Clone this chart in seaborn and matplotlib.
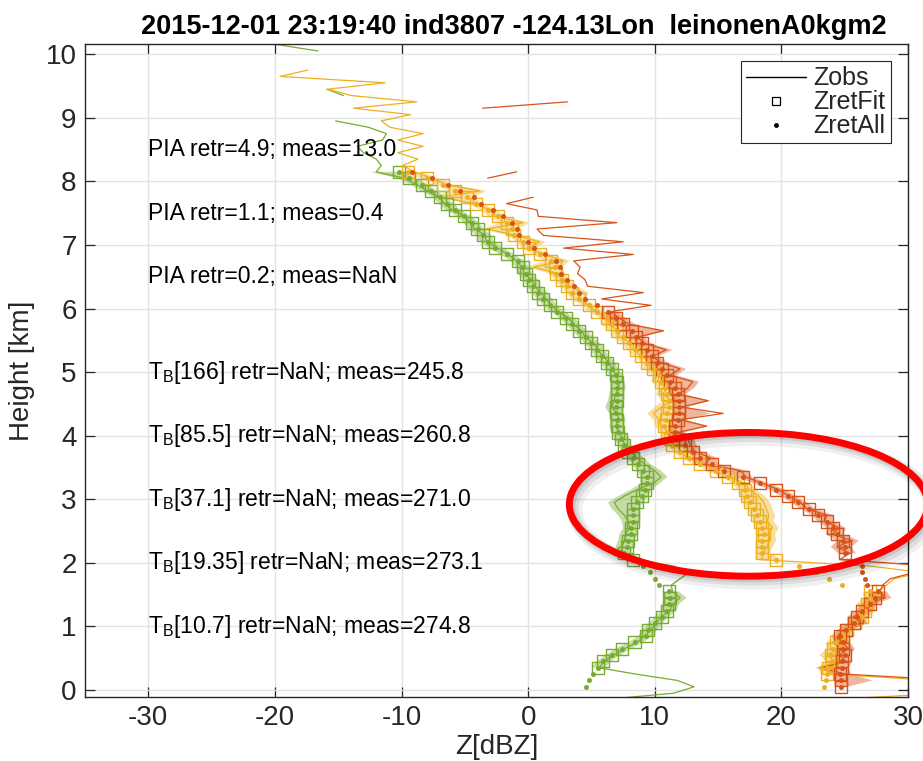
import numpy as np
import pandas as pd
import matplotlib
matplotlib.use("Agg")
import matplotlib.pyplot as plt
from matplotlib.lines import Line2D
from matplotlib.patches import Ellipse
import seaborn as sns

# ---------------- data ----------------
# retrieval range gates (km), top to bottom
height_ret = np.round(np.arange(8.15, 0.0, -0.1), 2)
# observation range gates (km), top to bottom
height_obs = np.round(np.arange(10.15, -0.2, -0.1), 2)

green_all = [-10.2, -9.4, -8.4, -7.7, -7.0, -6.4, -5.8, -5.1, -4.4, -4.0,
             -3.6, -3.2, -2.6, -1.7, -0.8, -0.4, -0.2, 0.1, 0.4, 0.8,
             1.2, 1.7, 2.3, 3.0, 3.5, 4.0, 4.6, 5.0, 5.4, 5.8,
             6.2, 6.6, 6.9, 7.0, 7.0, 7.0, 7.0, 6.9, 6.9, 7.0,
             7.0, 7.1, 7.3, 7.6, 7.9, 8.3, 8.7, 9.1, 9.4, 9.4,
             9.2, 9.0, 8.6, 8.3, 8.3, 8.3, 8.1, 8.1, 7.9, 7.8,
             7.6, 8.3, 9.1, 9.6, 10.0, 10.3, 11.1, 11.2, 11.1, 11.0,
             10.6, 10.0, 9.5, 9.3, 8.4, 7.4, 6.6, 5.9, 5.5, 5.1,
             4.8, 4.6]
orange_all = [-9.5, -8.0, -6.7, -5.8, -4.8, -4.1, -3.2, -2.4, -1.7, -1.3,
              -1.1, -0.4, 0.1, 0.9, 1.8, 2.1, 2.2, 2.7, 3.1, 3.5,
              4.0, 4.8, 5.4, 6.2, 6.6, 7.0, 7.5, 8.0, 8.5, 8.9,
              9.4, 9.9, 10.3, 10.5, 10.8, 11.0, 11.1, 11.1, 11.0, 10.9,
              10.7, 11.0, 11.2, 11.4, 12.0, 12.7, 13.6, 14.8, 15.8, 16.6,
              17.1, 17.3, 17.5, 17.8, 18.1, 18.3, 18.5, 18.6, 18.5, 18.5,
              18.5, 19.6, 21.4, 22.7, 23.8, 24.8, 27.0, 27.0, 26.8, 26.6,
              26.4, 25.8, 25.2, 24.9, 24.3, 24.1, 23.9, 24.0, 23.7, 23.6,
              23.5, 23.4]
red_all = [-9.2, -7.6, -6.3, -5.4, -4.3, -3.7, -2.8, -2.0, -1.3, -0.9,
           -0.7, 0.0, 0.5, 1.3, 2.2, 2.5, 2.6, 3.1, 3.6, 4.0,
           4.5, 5.4, 6.3, 6.9, 7.5, 8.2, 8.5, 9.0, 9.4, 9.8,
           10.2, 10.6, 11.0, 11.2, 11.6, 11.8, 11.9, 11.9, 11.9, 11.8,
           11.6, 11.6, 11.9, 12.4, 13.0, 13.6, 14.5, 15.5, 17.0, 18.3,
           19.6, 20.5, 21.3, 22.2, 22.9, 23.6, 24.1, 24.4, 24.9, 25.0,
           25.0, 26.2, 26.4, 26.4, 26.6, 26.8, 27.6, 27.4, 27.0, 26.4,
           26.0, 25.7, 25.1, 24.6, 24.9, 24.9, 25.0, 24.8, 24.8, 24.6,
           24.7, 24.7]

# gates where only ZretAll exists (no fitted point)
green_nofit = [1.95, 1.85, 1.75, 1.65, 0.25, 0.15, 0.05]
orange_nofit = [1.95, 1.85, 1.75, 1.65, 0.15, 0.05]
red_nofit = [8.15, 8.05, 7.95, 7.85, 7.75, 7.65, 7.55, 7.45, 7.35, 7.25,
             7.15, 7.05, 6.95, 6.85, 6.75, 6.65, 6.55, 6.45, 6.35, 6.25,
             6.15, 6.05, 2.05, 1.95, 1.85, 1.75, 1.65]

nan = np.nan
green_obs = [-19.8, -16.6, nan, nan, nan, nan, nan, -15.9, -14.6, nan,
             nan, nan, -15.2, -12.6, -11.2, -11.5, -13.5, -13.0, -12.0, -11.6,
             -12.0, -9.8, -8.8, -8.0, -7.0, -6.6, -6.0, -5.0, -4.6, -4.2,
             -3.4, -3.3, -2.4, -1.6, -0.9, -0.5, -0.3, 0.3, 0.5, 1.0,
             1.4, 1.8, 2.4, 3.2, 3.6, 4.2, 4.5, 5.2, 5.5, 5.9,
             6.4, 6.6, 7.0, 7.1, 7.2, 6.9, 6.8, 6.6, 7.0, 7.2,
             6.9, 7.2, 7.5, 7.6, 8.1, 8.6, 9.2, 10.0, 10.5, 9.9,
             8.6, 7.6, 6.8, 7.1, 7.6, 7.9, 8.0, 7.7, 7.6, 7.4,
             7.5, 8.6, 11.5, 12.7, 12.0, 11.3, 11.4, 12.0, 11.4, 11.2,
             10.5, 10.1, 9.7, 9.2, 8.6, 7.6, 6.8, 6.0, 5.6, 8.5,
             11.8, 13.1, 11.5, 6.0]
orange_obs = [nan, nan, nan, nan, -17.4, -19.6, -11.3, -15.8, -14.0, -8.8,
              -13.8, -9.3, -11.6, -10.9, -8.3, -10.3, -8.3, -10.3, -8.7, -9.9,
              -9.0, -7.6, -6.5, -3.8, -6.8, -4.3, -3.0, -2.6, -0.4, -3.2,
              -1.0, 0.9, 0.0, 1.2, 2.8, 0.4, 2.4, 2.6, 3.3, 4.3,
              3.9, 4.8, 5.3, 6.4, 6.3, 7.2, 7.2, 8.3, 8.3, 9.0,
              9.6, 9.6, 10.4, 10.2, 11.0, 10.6, 11.4, 10.5, 9.9, 10.4,
              10.5, 11.2, 11.0, 11.6, 12.2, 12.5, 13.9, 14.6, 16.0, 17.0,
              17.5, 18.2, 18.6, 18.8, 19.0, 18.9, 19.3, 19.0, 19.1, 18.8,
              18.6, 18.4, 27.0, 31.0, 28.9, 28.3, 27.6, 27.5, 26.4, 27.0,
              26.1, 26.2, 25.0, 25.3, 24.0, 24.6, 23.5, 24.3, 23.4, 23.9,
              32.0, nan, 33.0, 24.0]
red_obs = [nan, nan, nan, nan, nan, nan, nan, nan, nan, 3.1,
           -3.6, nan, nan, nan, nan, nan, nan, nan, nan, nan,
           -0.9, -3.2, nan, nan, 0.4, -1.7, 0.7, 0.8, 7.0, 0.7,
           1.2, 7.5, 2.8, 8.3, 3.6, 4.1, 3.9, 4.5, 4.7, 9.1,
           5.8, 9.7, 6.5, 7.2, 8.0, 10.7, 8.6, 9.2, 10.9, 9.8,
           10.5, 12.0, 11.2, 13.0, 12.6, 11.9, 14.2, 12.1, 15.4, 12.0,
           14.1, 11.8, 12.6, 12.8, 13.2, 14.4, 14.0, 16.8, 17.2, 18.5,
           19.8, 20.6, 21.5, 22.0, 23.6, 23.4, 24.6, 24.0, 25.6, 24.4,
           25.4, 24.6, 32.0, 30.5, 28.6, 28.0, 27.8, 28.2, 26.8, 26.7,
           25.7, 26.3, 25.0, 24.4, 24.8, 25.3, 24.6, 25.1, 23.2, 25.0,
           34.0, nan, nan, nan]

pia_text = ["PIA retr=4.9; meas=13.0", "PIA retr=1.1; meas=0.4", "PIA retr=0.2; meas=NaN"]
pia_y = [8.5, 7.5, 6.5]
tb_freq = ["166", "85.5", "37.1", "19.35", "10.7"]
tb_meas = ["245.8", "260.8", "271.0", "273.1", "274.8"]
tb_y = [5.0, 4.0, 3.0, 2.0, 1.0]

title = "2015-12-01 23:19:40 ind3807 -124.13Lon  leinonenA0kgm2"

colors = {"green": "#77AC30", "orange": "#EDB120", "red": "#D95319"}

# ---------------- style ----------------
sns.set_theme(style="whitegrid")
plt.rcParams["font.family"] = ["Liberation Sans", "DejaVu Sans"]
plt.rcParams["mathtext.fontset"] = "custom"
plt.rcParams["mathtext.rm"] = "Liberation Sans"
plt.rcParams["mathtext.it"] = "Liberation Sans:italic"
plt.rcParams["axes.unicode_minus"] = False

fig = plt.figure(figsize=(9.23, 7.61), dpi=100)
ax = fig.add_axes([85 / 923, 1 - 697 / 761, (908 - 85) / 923, (697 - 44) / 761])
ax.set_facecolor("white")

series = [("green", green_all, green_obs, green_nofit),
          ("orange", orange_all, orange_obs, orange_nofit),
          ("red", red_all, red_obs, red_nofit)]

nret = len(height_ret)
off = int(round((height_obs[0] - height_ret[0]) / 0.1))

# bands
for name, zall, zobs, nofit in series:
    col = colors[name]
    zall = np.asarray(zall, float)
    zo = np.asarray(zobs, float)[off:off + nret]
    fitmask = ~np.isin(height_ret, nofit)
    zo_c = np.clip(np.where(np.isnan(zo), zall, zo), zall - 2.0, zall + 2.0)
    lo = np.minimum(zall, zo_c) - 0.5
    hi = np.maximum(zall, zo_c) + 0.5
    lo = np.where(fitmask, lo, np.nan)
    hi = np.where(fitmask, hi, np.nan)
    ax.fill_betweenx(height_ret, lo, hi, color=col, alpha=0.42, lw=0, zorder=1)

# observed profiles
for name, zall, zobs, nofit in series:
    ax.plot(zobs, height_obs, color=colors[name], lw=0.9, zorder=2)

# retrieved points
for name, zall, zobs, nofit in series:
    col = colors[name]
    df = pd.DataFrame({"h": height_ret, "z": zall})
    df["fit"] = ~df["h"].isin(nofit)
    fit = df[df["fit"]]
    sns.scatterplot(data=fit, x="z", y="h", marker="s", s=75, facecolor="none",
                    edgecolor=col, linewidth=1.0, ax=ax, zorder=3, legend=False)
    sns.scatterplot(data=df, x="z", y="h", marker="o", s=13, color=col,
                    edgecolor=col, linewidth=0, ax=ax, zorder=4, legend=False)

# annotations
for t, y in zip(pia_text, pia_y):
    ax.text(-30, y, t, fontsize=16.5, va="center", ha="left", color="black")
for f, m, y in zip(tb_freq, tb_meas, tb_y):
    ax.text(-30, y, r"T$_{\mathrm{B}}$[" + f + "] retr=NaN; meas=" + m,
            fontsize=16.5, va="center", ha="left", color="black")

# highlight ellipse (with soft shadow)
for dx, dy, a, lw in [(0.45, -0.09, 0.06, 11), (0.3, -0.06, 0.08, 8), (0.15, -0.03, 0.10, 6)]:
    ax.add_patch(Ellipse((17.4 + dx, 2.92 + dy), 28.3, 2.26, fill=False,
                         ec="black", alpha=a, lw=lw, clip_on=False, zorder=5))
ax.add_patch(Ellipse((17.4, 2.92), 28.3, 2.26, fill=False, ec="#FF0000",
                     lw=5, clip_on=False, zorder=6))

# axes cosmetics
ax.set_xlim(-35, 30)
ax.set_ylim(-0.11, 10.16)
ax.set_xticks([-30, -20, -10, 0, 10, 20, 30])
ax.set_yticks(range(0, 11))
ax.grid(True, color="#E3E3E3", lw=1.0)
for s in ax.spines.values():
    s.set_color("#262626")
    s.set_linewidth(1.0)
ax.tick_params(direction="in", length=7, width=0.9, colors="#262626",
               labelsize=20, top=True, right=True, bottom=True, left=True,
               labelcolor="#262626", pad=6)
ax.set_xlabel("Z[dBZ]", fontsize=20, color="#262626", labelpad=2)
ax.set_ylabel("Height [km]", fontsize=20, color="#262626", labelpad=8)
ax.set_title(title, fontsize=19.5, fontweight="bold", color="black", pad=7,
             x=0.521)

handles = [Line2D([], [], color="black", lw=1.0),
           Line2D([], [], color="black", marker="s", ls="none", mfc="none", ms=6, mew=0.9),
           Line2D([], [], color="black", marker="o", ls="none", ms=2.5)]
leg = ax.legend(handles, ["Zobs", "ZretFit", "ZretAll"], loc="upper right",
                fontsize=18, frameon=True, fancybox=False, framealpha=1,
                edgecolor="#262626", handlelength=2.4, handletextpad=0.3,
                labelspacing=0.0, borderpad=0.2, borderaxespad=0.7)
leg.get_frame().set_linewidth(0.8)
leg.set_zorder(10)

fig.savefig("out.png", dpi=100)
